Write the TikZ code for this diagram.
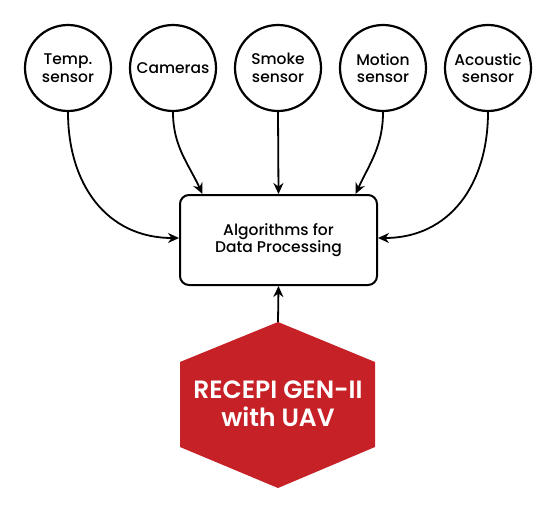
\documentclass[tikz,border=0pt]{standalone}
\usepackage{fontspec}
\setmainfont{Poppins}[UprightFont=* Medium, BoldFont=* SemiBold]
\usetikzlibrary{arrows.meta}
\definecolor{hexred}{RGB}{198,33,39}
\tikzset{
  sensor/.style={circle, draw=black, line width=2.2pt, minimum size=86pt, inner sep=0pt, align=center, font=\fontsize{15.5}{17.5}\selectfont},
  procbox/.style={draw=black, line width=2pt, rounded corners=9pt, minimum width=197pt, minimum height=90pt, align=center, font=\fontsize{15.5}{17.5}\selectfont},
  conn/.style={line width=1.8pt, -{Stealth[length=11pt,width=10pt]}}
}
\begin{document}
\begin{tikzpicture}[x=1pt,y=-1pt]
\useasboundingbox (0,0) rectangle (556,513);
\node[sensor] (s1) at (68,68) {Temp.\\sensor};
\node[sensor] (s2) at (173,68) {Cameras};
\node[sensor] (s3) at (278,68) {Smoke\\sensor};
\node[sensor] (s4) at (383,68) {Motion\\sensor};
\node[sensor] (s5) at (488,68) {Acoustic\\sensor};
\node[procbox] (alg) at (278.5,240) {Algorithms for\\Data Processing};
\coordinate (h1) at (278,322);
\fill[hexred] (h1) -- (375,362) -- (375,447) -- (278,488) -- (180,447) -- (180,362) -- cycle;
\node[text=white, align=center, font=\bfseries\fontsize{25}{28}\selectfont] (hex) at (278,404) {RECEPI GEN-II\\with UAV};
\draw[conn] (s1.south) to[out=-90,in=180,looseness=1.1] ([yshift=2pt]alg.west);
\draw[conn] (s2.south) to[out=-90,in=115,looseness=1] ([xshift=-76pt]alg.north);
\draw[conn] (s3.south) -- (alg.north);
\draw[conn] (s4.south) to[out=-90,in=65,looseness=1] ([xshift=77pt]alg.north);
\draw[conn] (s5.south) to[out=-90,in=0,looseness=1.1] ([yshift=2pt]alg.east);
\draw[conn] (h1) -- (alg.south);
\end{tikzpicture}
\end{document}
